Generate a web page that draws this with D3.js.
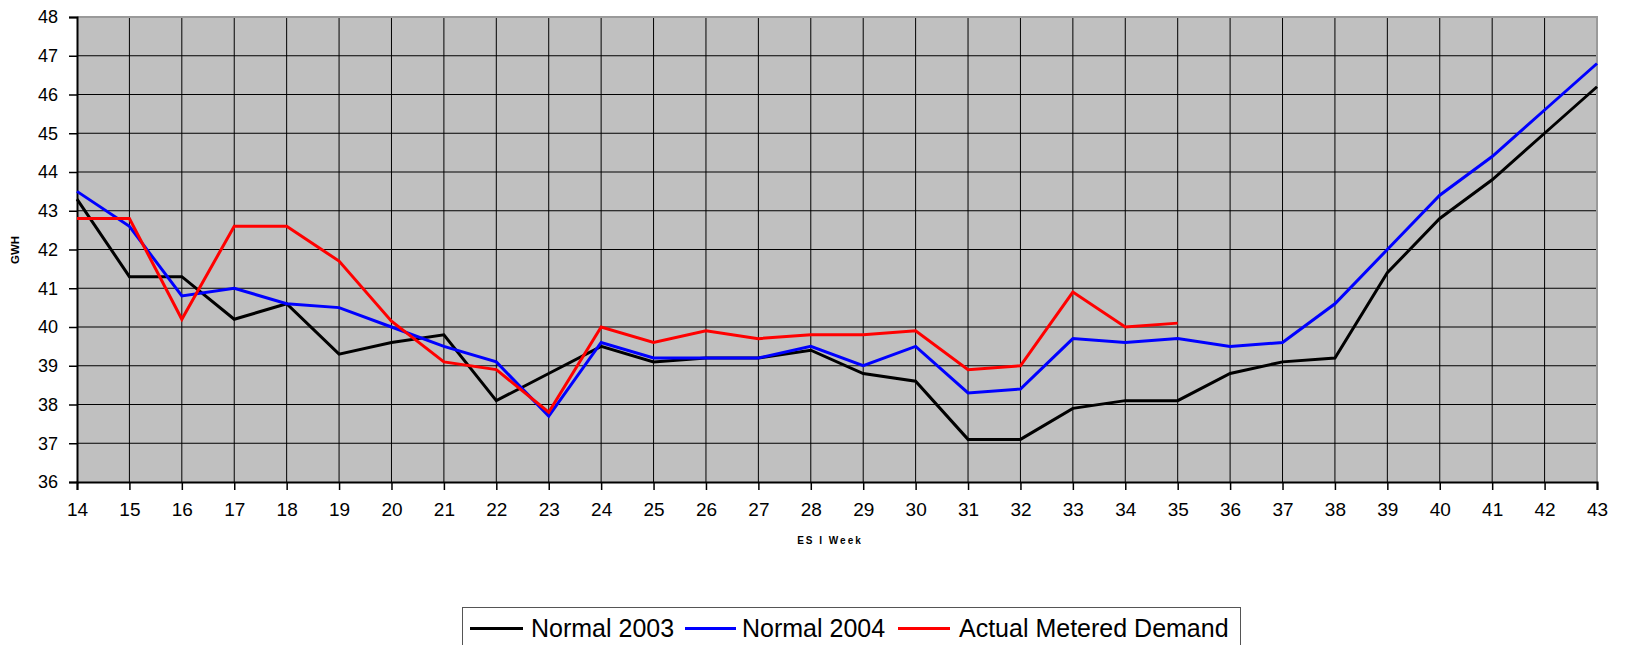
<!DOCTYPE html>
<html>
<head>
<meta charset="utf-8">
<script src="https://cdn.jsdelivr.net/npm/d3@7/dist/d3.min.js"></script>
<style>
  html, body { margin: 0; padding: 0; background: #fff; }
  svg { display: block; }
  text { font-family: "Liberation Sans", Arial, sans-serif; }
</style>
</head>
<body>
<svg id="chart" width="1625" height="645"></svg>
<script>
// ---- data ----
const weeks = [14,15,16,17,18,19,20,21,22,23,24,25,26,27,28,29,30,31,32,33,34,35,36,37,38,39,40,41,42,43];
const normal2003 = [43.3,41.3,41.3,40.2,40.6,39.3,39.6,39.8,38.1,38.8,39.5,39.1,39.2,39.2,39.4,38.8,38.6,37.1,37.1,37.9,38.1,38.1,38.8,39.1,39.2,41.4,42.8,43.8,45.0,46.2];
const normal2004 = [43.5,42.6,40.8,41.0,40.6,40.5,40.0,39.5,39.1,37.7,39.6,39.2,39.2,39.2,39.5,39.0,39.5,38.3,38.4,39.7,39.6,39.7,39.5,39.6,40.6,42.0,43.4,44.4,45.6,46.8];
const actualDemand = [42.8,42.8,40.2,42.6,42.6,41.7,40.15,39.1,38.9,37.8,40.0,39.6,39.9,39.7,39.8,39.8,39.9,38.9,39.0,40.9,40.0,40.1];
const yTicks = [36,37,38,39,40,41,42,43,44,45,46,47,48];
const seriesNames = ["Normal 2003", "Normal 2004", "Actual Metered Demand"];
const seriesColors = ["#000000", "#0000ff", "#ff0000"];

// ---- layout ----
const svg = d3.select("#chart");
const L = 77, R = 1597, T = 17, B = 482;
const x = d3.scaleLinear().domain([14, 43]).range([L, R]);
const y = d3.scaleLinear().domain([36, 48]).range([B, T]);

// plot background
svg.append("rect").attr("x", L).attr("y", T).attr("width", R - L).attr("height", B - T)
  .attr("fill", "#c0c0c0");

// gridlines
svg.append("g").selectAll("line").data(yTicks.filter(d => d > 36 && d < 48)).join("line")
  .attr("x1", L).attr("x2", R).attr("y1", d => y(d)).attr("y2", d => y(d))
  .attr("stroke", "#000").attr("stroke-width", 1);
svg.append("g").selectAll("line").data(weeks.filter(d => d > 14 && d < 43)).join("line")
  .attr("x1", d => x(d)).attr("x2", d => x(d)).attr("y1", T).attr("y2", B)
  .attr("stroke", "#000").attr("stroke-width", 1);

// top/right border
svg.append("path").attr("d", `M${L},${T}H${R}V${B}`).attr("fill", "none")
  .attr("stroke", "#9a9a9a").attr("stroke-width", 2);

// axes
const yAxis = d3.axisLeft(y).tickValues(yTicks).tickSize(8).tickPadding(11).tickFormat(d3.format("d"));
const gy = svg.append("g").attr("transform", `translate(${L},0)`).call(yAxis);
gy.select(".domain").attr("stroke", "#000").attr("stroke-width", 2);
gy.selectAll(".tick line").attr("stroke", "#000").attr("stroke-width", 1.5);
gy.selectAll(".tick text").attr("font-size", 18).attr("fill", "#000")
  .attr("font-family", "Liberation Sans, Arial, sans-serif");

const xAxis = d3.axisBottom(x).tickValues(weeks).tickSize(8).tickPadding(13).tickFormat(d3.format("d"));
const gx = svg.append("g").attr("transform", `translate(0,${B})`).call(xAxis);
gx.select(".domain").attr("stroke", "#000").attr("stroke-width", 2);
gx.selectAll(".tick line").attr("stroke", "#000").attr("stroke-width", 1.5);
gx.selectAll(".tick text").attr("font-size", 19).attr("fill", "#000")
  .attr("font-family", "Liberation Sans, Arial, sans-serif");

// lines
const line = d3.line().x((d, i) => x(weeks[i])).y(d => y(d));
[normal2003, normal2004, actualDemand].forEach((s, k) => {
  svg.append("path").datum(s).attr("d", line).attr("fill", "none")
    .attr("stroke", seriesColors[k]).attr("stroke-width", 3)
    .attr("stroke-linejoin", "miter");
});

// axis titles
svg.append("text").attr("transform", "translate(19,250) rotate(-90)")
  .attr("text-anchor", "middle").attr("font-size", 11).attr("font-weight", "bold")
  .attr("textLength", 28).attr("lengthAdjust", "spacingAndGlyphs")
  .text("GWH");
svg.append("text").attr("x", 830).attr("y", 544).attr("text-anchor", "middle")
  .attr("font-family", "Liberation Serif, 'Times New Roman', serif")
  .attr("font-size", 10).attr("font-weight", "bold").attr("letter-spacing", 2)
  .text("ES I Week");

// legend
const lg = svg.append("g");
lg.append("rect").attr("x", 462.5).attr("y", 607.5).attr("width", 778).attr("height", 60)
  .attr("fill", "#fff").attr("stroke", "#555").attr("stroke-width", 1);
const legendItems = [
  { x1: 470, x2: 523, tx: 531 },
  { x1: 685, x2: 736, tx: 742 },
  { x1: 898, x2: 950, tx: 959 }
];
legendItems.forEach((it, k) => {
  lg.append("line").attr("x1", it.x1).attr("x2", it.x2).attr("y1", 628.5).attr("y2", 628.5)
    .attr("stroke", seriesColors[k]).attr("stroke-width", 3);
  lg.append("text").attr("x", it.tx).attr("y", 637).attr("font-size", 25).attr("fill", "#000")
    .text(seriesNames[k]);
});
</script>
</body>
</html>
